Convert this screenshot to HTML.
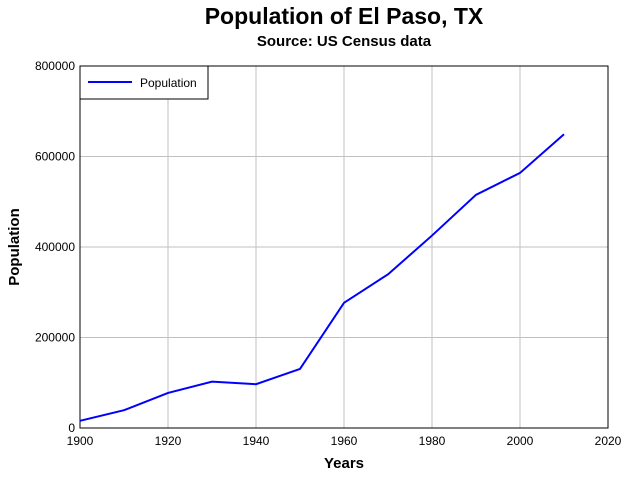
<!DOCTYPE html>
<html><head><meta charset="utf-8"><style>
body{margin:0;background:#fff;font-family:"Liberation Sans",Arial,sans-serif;}
svg text{font-family:"Liberation Sans",Arial,sans-serif;}
</style></head><body>
<svg id="chart" width="639" height="480" viewBox="0 0 639 480">
<rect width="639" height="480" fill="#fff"/>
<text x="344" y="24" text-anchor="middle" font-size="23" font-weight="bold">Population of El Paso, TX</text>
<text x="344" y="46" text-anchor="middle" font-size="15" font-weight="bold">Source: US Census data</text>
<g id="grid"></g>
<g id="axes"></g>
<polyline id="line" fill="none" stroke="#0000ff" stroke-width="2"/>
<g>
<rect x="80" y="66" width="128" height="33" fill="#fff" stroke="#000" stroke-width="1"/>
<line x1="88" y1="82" x2="132" y2="82" stroke="#0000ff" stroke-width="2"/>
<text x="140" y="87" font-size="12">Population</text>
</g>
<text x="344" y="468" text-anchor="middle" font-size="15" font-weight="bold">Years</text>
<text transform="translate(19,247) rotate(-90)" text-anchor="middle" font-size="15" font-weight="bold">Population</text>
</svg>
<script>
const years=[1900,1910,1920,1930,1940,1950,1960,1970,1980,1990,2000,2010];
const population=[15906,39279,77560,102421,96810,130485,276687,339615,425259,515342,563662,649121];
const xTicks=[1900,1920,1940,1960,1980,2000,2020];
const yTicks=[0,200000,400000,600000,800000];
const L=80,R=608,T=66,B=428;
const xs=v=>L+(v-1900)/120*(R-L);
const ys=v=>B-v/800000*(B-T);
const NS='http://www.w3.org/2000/svg';
const grid=document.getElementById('grid'),axes=document.getElementById('axes');
function mk(tag,attrs,parent){const e=document.createElementNS(NS,tag);for(const k in attrs)e.setAttribute(k,attrs[k]);parent.appendChild(e);return e;}
xTicks.forEach(t=>{
 const l=mk('line',{x1:xs(t),x2:xs(t),y1:T,y2:B,stroke:'#c0c0c0','stroke-width':1},grid);
 
 
 const tx=mk('text',{x:xs(t),y:B+17,'text-anchor':'middle','font-size':12},axes);
 tx.textContent=t;
 
 
});
yTicks.forEach(t=>{
 const l=mk('line',{x1:L,x2:R,y1:ys(t),y2:ys(t),stroke:'#c0c0c0','stroke-width':1},grid);
 
 
 const tx=mk('text',{x:L-5,y:ys(t)+4,'text-anchor':'end','font-size':12},axes);
 tx.textContent=t;
 
 
});
const fr=mk('rect',{x:L,y:T,width:R-L,height:B-T,fill:'none',stroke:'#000','stroke-width':1},axes);


document.getElementById('line').setAttribute('points',years.map((y,i)=>xs(y)+','+ys(population[i])).join(' '));
</script>
</body></html>
